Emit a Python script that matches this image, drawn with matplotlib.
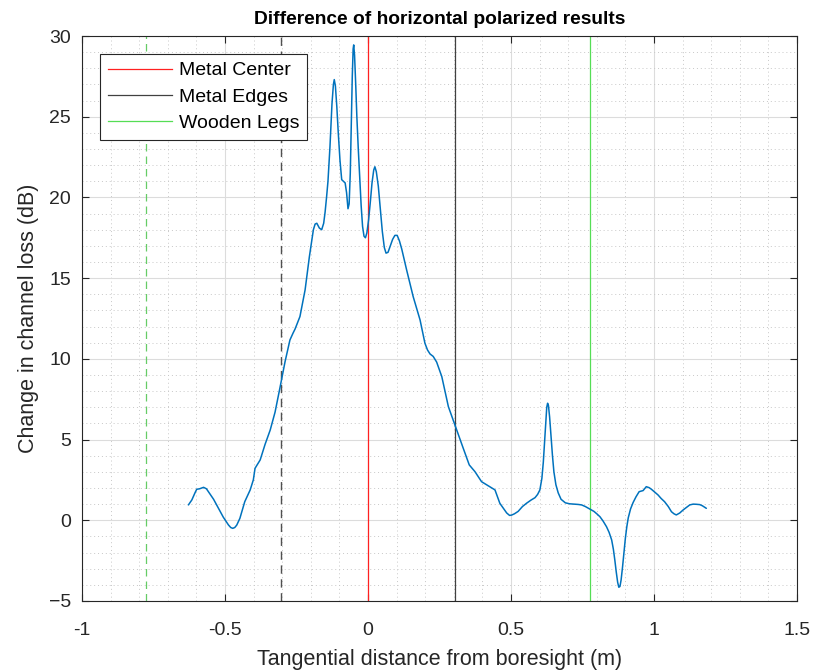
import matplotlib.pyplot as plt
from matplotlib.ticker import MultipleLocator

# curve (x in m, change in dB)
dist = [-0.628, -0.616, -0.605, -0.599, -0.589, -0.575, -0.565, -0.558, -0.549, -0.540,
        -0.523, -0.506, -0.488, -0.480, -0.473, -0.466, -0.459, -0.448, -0.431, -0.412,
        -0.401, -0.395, -0.377, -0.360, -0.342, -0.325, -0.308, -0.290, -0.273, -0.262,
        -0.255, -0.238, -0.220, -0.205, -0.197, -0.191, -0.185, -0.179, -0.170, -0.162,
        -0.155, -0.150, -0.145, -0.140, -0.133, -0.126, -0.121, -0.118, -0.114, -0.109,
        -0.104, -0.098, -0.092, -0.086, -0.080, -0.075, -0.070, -0.066, -0.062, -0.058,
        -0.055, -0.052, -0.050, -0.047, -0.043, -0.039, -0.034, -0.029, -0.024, -0.019,
        -0.014, -0.009, -0.004, 0.002, 0.008, 0.014, 0.020, 0.024, 0.029, 0.036,
        0.043, 0.050, 0.057, 0.063, 0.070, 0.078, 0.086, 0.094, 0.102, 0.110,
        0.118, 0.135, 0.158, 0.182, 0.199, 0.208, 0.217, 0.228, 0.240, 0.258,
        0.281, 0.310, 0.333, 0.354, 0.374, 0.397, 0.426, 0.444, 0.461, 0.475,
        0.485, 0.495, 0.502, 0.512, 0.525, 0.540, 0.554, 0.570, 0.584, 0.593,
        0.601, 0.608, 0.613, 0.618, 0.622, 0.625, 0.628, 0.631, 0.635, 0.640,
        0.645, 0.650, 0.657, 0.665, 0.675, 0.690, 0.705, 0.720, 0.735, 0.747,
        0.760, 0.775, 0.790, 0.800, 0.811, 0.822, 0.834, 0.843, 0.852, 0.858,
        0.863, 0.868, 0.873, 0.877, 0.881, 0.885, 0.890, 0.895, 0.900, 0.905,
        0.910, 0.918, 0.927, 0.937, 0.948, 0.962, 0.973, 0.983, 0.991, 1.002,
        1.014, 1.025, 1.037, 1.050, 1.061, 1.070, 1.078, 1.090, 1.102, 1.115,
        1.125, 1.137, 1.148, 1.160, 1.169, 1.183]
change = [0.95, 1.26, 1.70, 1.92, 1.95, 2.04, 1.95, 1.77, 1.55, 1.30,
          0.74, 0.19, -0.29, -0.45, -0.50, -0.45, -0.30, 0.12, 1.15, 1.88,
          2.50, 3.22, 3.74, 4.70, 5.59, 6.70, 8.20, 9.83, 11.17, 11.60,
          11.85, 12.62, 14.27, 16.33, 17.30, 18.00, 18.35, 18.40, 18.10, 18.00,
          18.40, 19.10, 20.00, 21.00, 23.15, 25.80, 27.00, 27.30, 26.90, 25.60,
          24.00, 22.30, 21.10, 21.00, 20.90, 20.30, 19.30, 19.60, 21.50, 25.00,
          27.50, 29.20, 29.45, 28.80, 27.00, 25.00, 23.00, 21.20, 19.50, 18.20,
          17.60, 17.50, 17.80, 18.60, 19.70, 20.90, 21.70, 21.90, 21.60, 20.70,
          19.30, 17.90, 16.90, 16.55, 16.60, 17.00, 17.40, 17.65, 17.65, 17.30,
          16.80, 15.51, 13.85, 12.41, 10.97, 10.55, 10.30, 10.15, 9.80, 8.90,
          7.04, 5.59, 4.46, 3.43, 3.01, 2.39, 2.08, 1.88, 1.05, 0.70,
          0.45, 0.30, 0.32, 0.40, 0.55, 0.85, 1.05, 1.25, 1.40, 1.60,
          1.88, 2.60, 3.60, 5.00, 6.20, 7.00, 7.25, 7.10, 6.40, 5.20,
          4.00, 3.00, 2.20, 1.70, 1.30, 1.08, 1.02, 1.00, 0.98, 0.95,
          0.85, 0.70, 0.55, 0.40, 0.22, -0.05, -0.40, -0.75, -1.22, -1.80,
          -2.46, -3.20, -3.85, -4.15, -4.10, -3.70, -2.90, -2.00, -1.10, -0.40,
          0.15, 0.70, 1.10, 1.45, 1.77, 1.84, 2.08, 2.02, 1.92, 1.75,
          1.57, 1.35, 1.15, 0.85, 0.53, 0.40, 0.33, 0.45, 0.64, 0.82,
          0.95, 1.00, 0.99, 0.97, 0.90, 0.74]

metal_center = 0.0
metal_edges = [-0.305, 0.305]
wooden_legs = [-0.777, 0.777]

plt.rcParams['font.family'] = ['Liberation Sans', 'DejaVu Sans']
fig = plt.figure(figsize=(8.17, 6.72), dpi=100)
ax = fig.add_axes([0.1004, 0.1057, 0.8751, 0.8407])

ax.plot(dist, change, color='#0072BD', linewidth=1.1, zorder=3,
        solid_joinstyle='round', solid_capstyle='round')

# reference lines
ax.axvline(metal_center, color='#ff2020', linewidth=0.9, label='Metal Center')
ax.axvline(metal_edges[1], color='#404040', linewidth=0.9, label='Metal Edges')
ax.axvline(wooden_legs[1], color='#55dd55', linewidth=0.9, label='Wooden Legs')
ax.axvline(metal_edges[0], color='#505050', linewidth=1.0, linestyle=(0, (6, 4)))
ax.axvline(wooden_legs[0], color='#66cc66', linewidth=0.9, linestyle=(0, (6, 4)))

ax.set_xlim(-1, 1.5)
ax.set_ylim(-5, 30)
ax.xaxis.set_major_locator(MultipleLocator(0.5))
ax.xaxis.set_minor_locator(MultipleLocator(0.1))
ax.yaxis.set_major_locator(MultipleLocator(5))
ax.yaxis.set_minor_locator(MultipleLocator(1))
ax.set_xticks([-1, -0.5, 0, 0.5, 1, 1.5])
ax.set_xticklabels(['-1', '-0.5', '0', '0.5', '1', '1.5'])

ax.grid(which='major', color='#dcdcdc', linewidth=0.8)
ax.grid(which='minor', color='#c8c8c8', linewidth=0.7, linestyle=(0, (1, 3)))
ax.set_axisbelow(True)

ax.tick_params(which='both', direction='in', top=True, right=True,
               labelsize=14, colors='#262626')
ax.tick_params(which='major', length=5)
ax.tick_params(which='minor', length=0)
ax.tick_params(axis='x', pad=15)
ax.tick_params(axis='y', pad=8)
for s in ax.spines.values():
    s.set_color('#262626')
    s.set_linewidth(0.8)

ax.set_title('Difference of horizontal polarized results', fontsize=13.8,
             fontweight='bold', pad=9)
ax.set_xlabel('Tangential distance from boresight (m)', fontsize=15.5,
              color='#262626', labelpad=7)
ax.set_ylabel('Change in channel loss (dB)', fontsize=15.5, color='#262626',
              labelpad=7)

leg = ax.legend(loc='upper left', bbox_to_anchor=(0.025, 0.968), fontsize=14,
                fancybox=False, framealpha=1, edgecolor='#262626',
                handlelength=3.3, borderpad=0.4, labelspacing=0.45,
                handletextpad=0.35, borderaxespad=0)
leg.get_frame().set_linewidth(0.8)

fig.savefig('out.png', dpi=100)
